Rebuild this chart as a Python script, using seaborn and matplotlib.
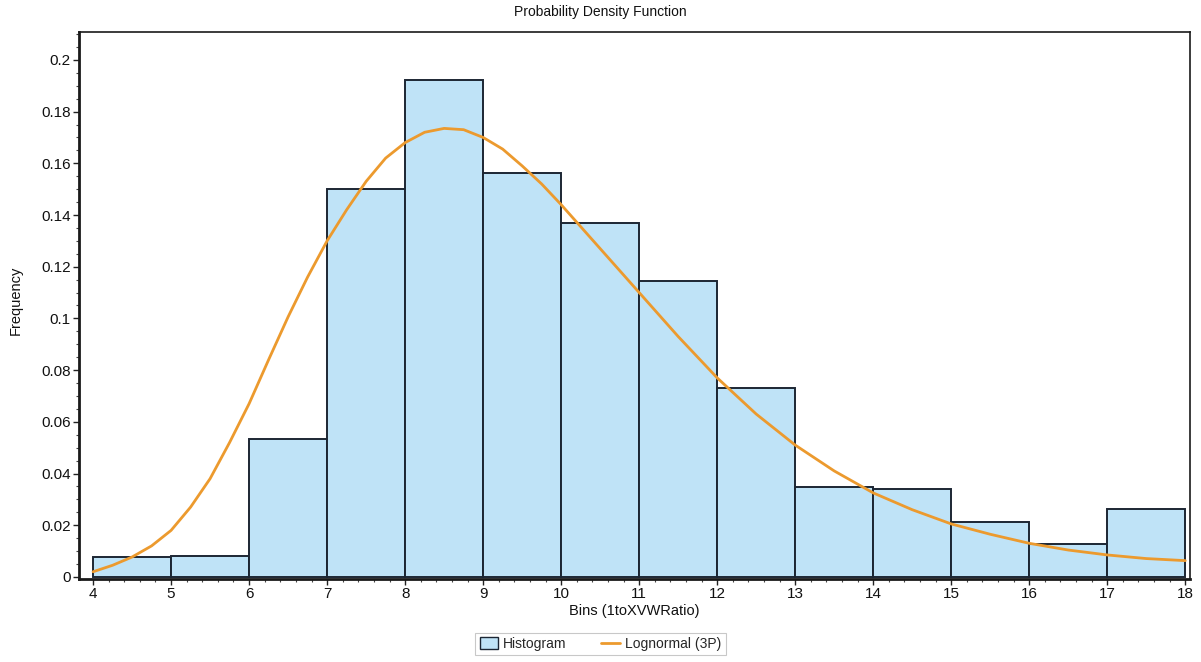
import numpy as np
import pandas as pd
import matplotlib
matplotlib.use("Agg")
import matplotlib.pyplot as plt
from matplotlib.ticker import MultipleLocator, FuncFormatter
from matplotlib.patches import Patch
from matplotlib.lines import Line2D
import seaborn as sns

# ---- data ----
bin_edges = [4, 5, 6, 7, 8, 9, 10, 11, 12, 13, 14, 15, 16, 17, 18]
bin_heights = [0.0076, 0.0079, 0.0533, 0.150, 0.1923, 0.1564, 0.137, 0.1146,
               0.0731, 0.0348, 0.034, 0.0213, 0.0129, 0.0263]

curve_x = [4, 4.25, 4.5, 4.75, 5, 5.25, 5.5, 5.75, 6, 6.25, 6.5, 6.75, 7, 7.25,
           7.5, 7.75, 8, 8.25, 8.5, 8.75, 9, 9.25, 9.5, 9.75, 10, 10.5, 11,
           11.5, 12, 12.5, 13, 13.5, 14, 14.5, 15, 15.5, 16, 16.5, 17, 17.5, 18]
curve_y = [0.002, 0.0045, 0.0077, 0.012, 0.018, 0.027, 0.038, 0.052, 0.067,
           0.084, 0.1006, 0.116, 0.130, 0.142, 0.153, 0.162, 0.168, 0.172,
           0.1735, 0.173, 0.170, 0.1655, 0.159, 0.152, 0.144, 0.127, 0.110,
           0.093, 0.077, 0.063, 0.051, 0.041, 0.0325, 0.026, 0.0205, 0.0165,
           0.013, 0.0104, 0.0085, 0.0071, 0.0063]

title = "Probability Density Function"
xlabel = "Bins (1toXVWRatio)"
ylabel = "Frequency"
legend_labels = ["Histogram", "Lognormal (3P)"]

# ---- style ----
sns.set_theme(style="white")
plt.rcParams["font.family"] = ["Liberation Sans", "DejaVu Sans"]

bar_color = "#bfe3f7"
edge_color = "#1c2633"
line_color = "#ec9a2e"

fig = plt.figure(figsize=(12.01, 6.62), dpi=100)
ax = fig.add_axes([0.0658, 0.1254, 0.9250, 0.8263])

centers = [(a + b) / 2 for a, b in zip(bin_edges[:-1], bin_edges[1:])]
df_bars = pd.DataFrame({"x": centers, "h": bin_heights})
sns.histplot(data=df_bars, x="x", weights="h", bins=bin_edges, stat="count",
             color=bar_color, edgecolor=edge_color, linewidth=1.4, alpha=1.0,
             ax=ax)

df_curve = pd.DataFrame({"x": curve_x, "y": curve_y})
sns.lineplot(data=df_curve, x="x", y="y", color=line_color, linewidth=2.0, ax=ax)

ax.set_xlim(3.82, 18.06)
ax.set_ylim(-0.0008, 0.2108)

ax.xaxis.set_major_locator(MultipleLocator(1))
ax.xaxis.set_minor_locator(MultipleLocator(0.2))
ax.yaxis.set_major_locator(MultipleLocator(0.02))
ax.yaxis.set_minor_locator(MultipleLocator(0.005))

def yfmt(v, pos):
    if abs(v) < 1e-9:
        return "0"
    s = f"{v:.2f}".rstrip("0")
    return s
ax.yaxis.set_major_formatter(FuncFormatter(yfmt))

ax.tick_params(axis="both", which="major", direction="out", length=4, width=1,
               color="#222222", labelsize=11, pad=2, labelcolor="#111111")
ax.tick_params(axis="both", which="minor", direction="out", length=2, width=0.8,
               color="#444444")
ax.tick_params(axis="x", which="both", bottom=True)
ax.tick_params(axis="y", which="both", left=True)

for side in ["left", "bottom"]:
    ax.spines[side].set_linewidth(2.0)
    ax.spines[side].set_color("#1a1a1a")
for side in ["top", "right"]:
    ax.spines[side].set_linewidth(1.2)
    ax.spines[side].set_color("#1a1a1a")

ax.set_xlabel(xlabel, fontsize=10.5, labelpad=2, color="#111111")
ax.set_ylabel("")
fig.text(16 / 1201, 1 - 300 / 662, ylabel, rotation=90, ha="center", va="center",
         fontsize=10.5, color="#111111")
fig.text(0.5, 1 - 12 / 662, title, ha="center", va="center", fontsize=10,
         color="#111111")

handles = [Patch(facecolor=bar_color, edgecolor=edge_color, linewidth=1.0),
           Line2D([0], [0], color=line_color, linewidth=2)]
leg = fig.legend(handles, legend_labels, loc="lower center",
                 bbox_to_anchor=(0.5, 0.0), ncol=2, fontsize=10,
                 frameon=True, fancybox=False, edgecolor="#bbbbbb",
                 handlelength=1.3, handleheight=0.9, columnspacing=2.5,
                 borderpad=0.3, handletextpad=0.4)
leg.get_frame().set_linewidth(0.8)

fig.savefig("out.png", dpi=100, facecolor="white")
